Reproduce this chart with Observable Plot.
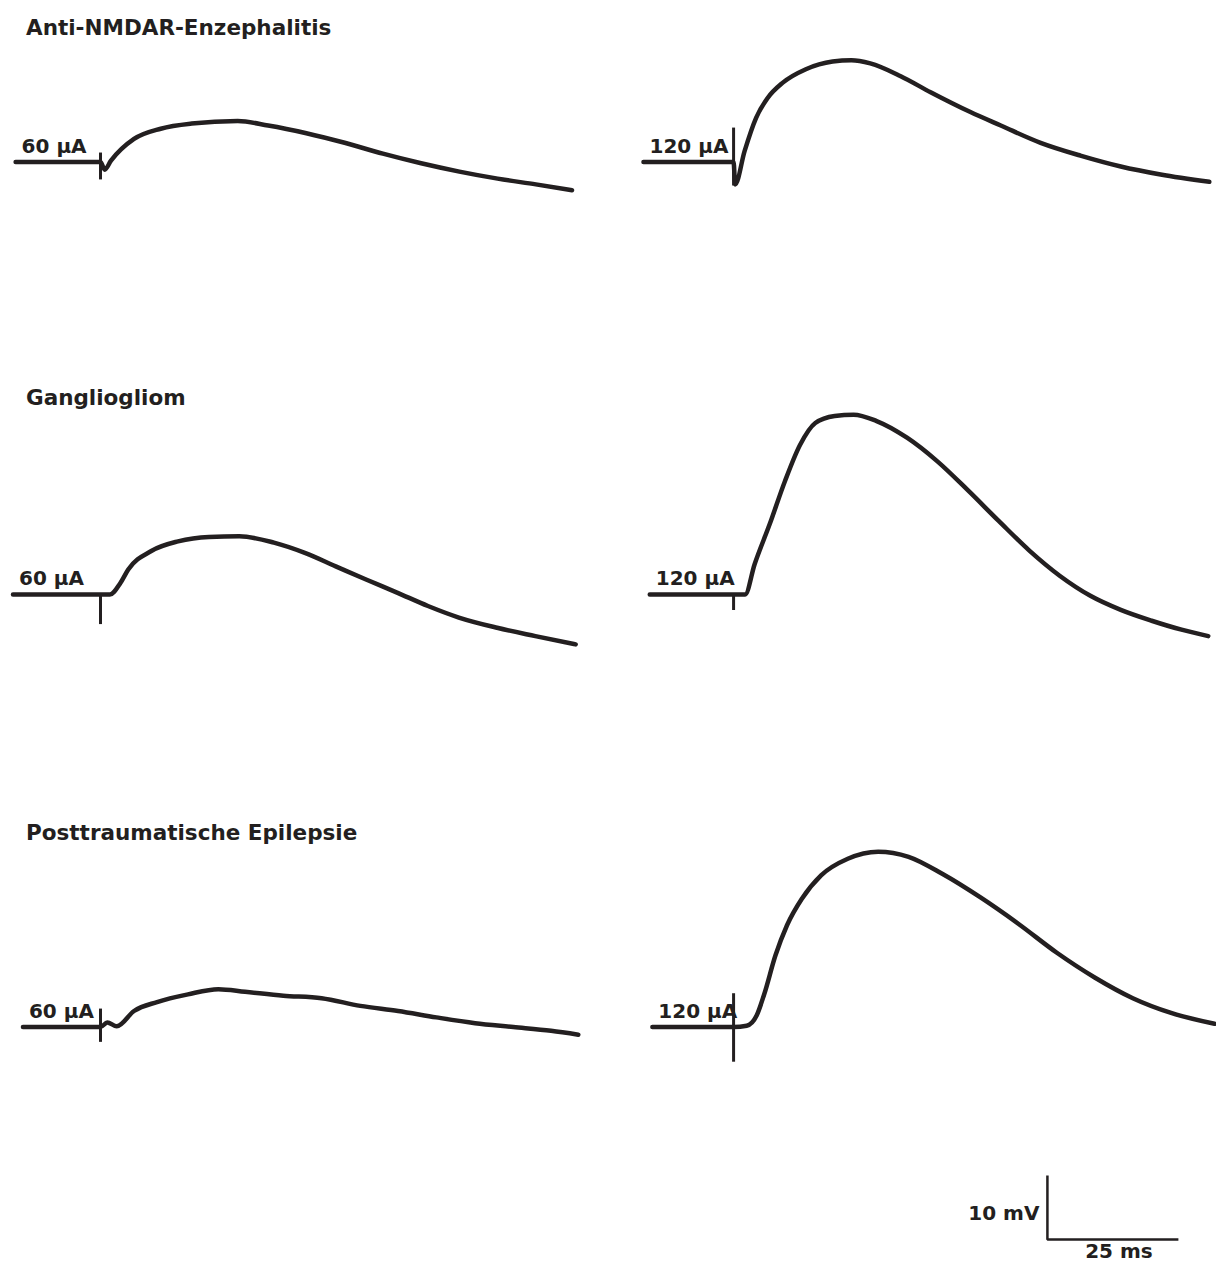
<!DOCTYPE html>
<html>
<head>
<meta charset="utf-8">
<script src="https://cdn.jsdelivr.net/npm/d3@7"></script>
<script src="https://cdn.jsdelivr.net/npm/@observablehq/plot@0.6"></script>
<style>
  html, body { margin: 0; padding: 0; background: #ffffff; }
  #fig { position: relative; width: 1216px; height: 1265px; overflow: hidden; background: #ffffff; }
  #fig svg { position: absolute; left: 0; top: 0; }
  .row-title { position: absolute; left: 26px; font: bold 21.5px "DejaVu Sans", sans-serif; line-height: 1; color: #231f20; white-space: nowrap; }
</style>
</head>
<body>
<div id="fig"></div>
<script>
// ---- Data (time in ms relative to stimulus, potential in mV relative to baseline) ----
const conditions = ["Anti-NMDAR-Enzephalitis", "Gangliogliom", "Posttraumatische Epilepsie"];
const stimuli = ["60 µA", "120 µA"];

const nmdar60 = [[-16.2,0],[-10,0],[-5,0],[0,0],[0.8,-1.2],[2,0.2],[6.4,3.6],[11.5,5.2],[17.4,6.0],[26.2,6.4],[32,5.7],[39.3,4.5],[46.6,3.0],[53.9,1.3],[61.2,-0.2],[68.5,-1.5],[75.8,-2.6],[83.1,-3.5],[90,-4.4]];
const nmdar120 = [[-17.2,0],[-8,0],[0,0],[0.3,-3.5],[2.1,1.7],[4.3,6.9],[6.5,10.0],[9.4,12.4],[13.8,14.5],[18.9,15.7],[22.5,15.9],[26.1,15.4],[31.9,13.4],[37.6,10.9],[45.2,7.8],[51,5.7],[58.6,3.0],[66.2,1.0],[73.9,-0.7],[81.5,-1.95],[90.8,-3.1]];
const gg60 = [[-16.7,0],[-8,0],[0,0],[1.8,0],[3.8,1.8],[5.3,3.9],[9.7,6.8],[14.8,8.3],[20.7,9.0],[26.5,9.1],[33.1,8.1],[39,6.5],[44.9,4.4],[50.8,2.3],[56.6,0.3],[62.5,-1.8],[68.4,-3.6],[75.7,-5.2],[83,-6.5],[90.7,-7.8]];
const gg120 = [[-16.0,0],[-8,0],[0,0],[2.2,0],[4.0,4.7],[6.9,11],[9.8,17.7],[12.7,23.4],[15.6,26.8],[19.3,27.9],[22.9,28.1],[27.3,27.1],[33.1,24.5],[38.9,20.8],[44.7,16.3],[50.6,11.5],[56.4,6.9],[62.3,2.9],[68.1,-0.2],[73.9,-2.4],[79.8,-4.1],[85.5,-5.5],[90.6,-6.5]];
const pte60 = [[-14.8,0],[-8,0],[0,0],[1.3,0.7],[3.1,0.1],[6.4,2.5],[10.8,3.9],[16.7,5.1],[22.5,5.9],[27.6,5.5],[34.9,4.9],[42.2,4.5],[49.6,3.3],[56.8,2.5],[64.1,1.5],[71.5,0.6],[78.8,0],[86,-0.6],[91.2,-1.2]];
const pte120 = [[-15.5,0],[-8,0],[0,0],[2.5,0.2],[4.4,1.8],[5.8,5],[8,11.2],[10.2,15.9],[13,20],[16.7,23.7],[21.8,26.3],[27.6,27.4],[33.4,26.6],[39.9,23.9],[47.2,20.2],[54.4,16.1],[61.7,11.6],[69,7.7],[76.2,4.5],[83.5,2.2],[91.8,0.5]];

// stimulus artifact extent (mV), order: condition × stimulus
const stimulusMs = 0;
const artifactTop = [1.4, 5.3, 0, 0, 2.8, 5.2];
const artifactBottom = [-2.8, -3.75, -4.7, -2.5, -2.4, -5.5];

// calibration bar
const scaleBar = {ms: 25, mV: 10, atMs: 59.9, atMv: -33.2};
const scaleLabels = ["10 mV", "25 ms"];

// ---- Build tables ----
const series = [[nmdar60, nmdar120], [gg60, gg120], [pte60, pte120]];
const traces = [], starts = [], artifacts = [];
conditions.forEach((c, i) => stimuli.forEach((s, j) => {
  const pts = series[i][j];
  pts.forEach(([t, v]) => traces.push({condition: c, stim: s, t, v}));
  starts.push({condition: c, stim: s, t: pts[0][0], v: pts[0][1], label: s});
  artifacts.push({condition: c, stim: s, t: stimulusMs, top: artifactTop[i * 2 + j], bottom: artifactBottom[i * 2 + j]});
}));
const sbFacet = {condition: conditions[2], stim: stimuli[1]};
const sbPath = [
  {...sbFacet, t: scaleBar.atMs, v: scaleBar.atMv + scaleBar.mV},
  {...sbFacet, t: scaleBar.atMs, v: scaleBar.atMv},
  {...sbFacet, t: scaleBar.atMs + scaleBar.ms, v: scaleBar.atMv}
];
const sbText = [
  {...sbFacet, t: scaleBar.atMs, v: scaleBar.atMv + scaleBar.mV / 2, label: scaleLabels[0]},
  {...sbFacet, t: scaleBar.atMs + scaleBar.ms / 2, v: scaleBar.atMv, label: scaleLabels[1]}
];

const ink = "#231f20";
const F = {fx: "stim", fy: "condition"};

const chart = Plot.plot({
  width: 1216,
  height: 1265,
  marginTop: 1.5,
  marginBottom: 161.7,
  marginLeft: 8.3,
  marginRight: 0.9,
  x: {domain: [-17.5, 92], axis: null},
  y: {domain: [-12, 25], axis: null},
  fx: {domain: stimuli, axis: null, paddingInner: 0.0938, paddingOuter: 0, round: false},
  fy: {domain: conditions, axis: null, paddingInner: 0.4525, paddingOuter: 0, round: false},
  style: {fontFamily: "DejaVu Sans, sans-serif", background: "transparent", overflow: "visible"},
  marks: [
    Plot.ruleX(artifacts, {...F, x: "t", y1: "bottom", y2: "top", stroke: ink, strokeWidth: 3}),
    Plot.line(traces, {...F, x: "t", y: "v", curve: "monotone-x", stroke: ink, strokeWidth: 4.5, strokeLinejoin: "round", strokeLinecap: "round"}),
    Plot.text(starts, {...F, x: "t", y: "v", text: "label", textAnchor: "start", lineAnchor: "bottom", dx: 6, dy: -9, fontSize: 20, fontWeight: "bold", fill: ink}),
    Plot.line(sbPath, {...F, x: "t", y: "v", stroke: ink, strokeWidth: 2.5, strokeLinejoin: "miter", strokeLinecap: "butt"}),
    Plot.text(sbText.slice(0, 1), {...F, x: "t", y: "v", text: "label", textAnchor: "end", lineAnchor: "middle", dx: -8, dy: 6, fontSize: 20, fontWeight: "bold", fill: ink}),
    Plot.text(sbText.slice(1), {...F, x: "t", y: "v", text: "label", textAnchor: "middle", lineAnchor: "top", dx: 6, dy: 4, fontSize: 20, fontWeight: "bold", fill: ink})
  ]
});

const fig = document.getElementById("fig");
fig.appendChild(chart);
const titleTops = [17, 387, 822];
conditions.forEach((c, i) => {
  const d = document.createElement("div");
  d.className = "row-title";
  d.style.top = titleTops[i] + "px";
  d.textContent = c;
  fig.appendChild(d);
});
</script>
</body>
</html>
